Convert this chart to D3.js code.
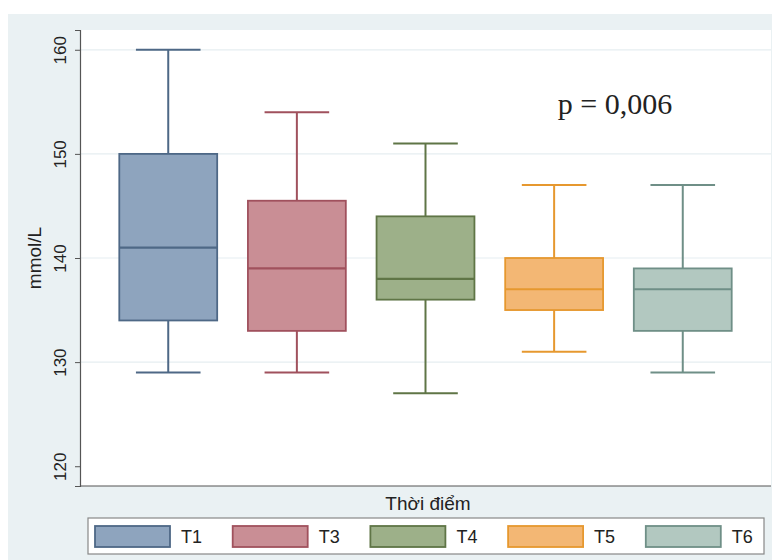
<!DOCTYPE html>
<html>
<head>
<meta charset="utf-8">
<script src="https://cdn.jsdelivr.net/npm/d3@7"></script>
<style>
  html, body { margin: 0; padding: 0; background: #ffffff; }
  svg { display: block; }
</style>
</head>
<body>
<svg id="chart" width="772" height="560"></svg>
<script>
// Serum sodium (mmol/L) across time points — box plot summaries
const groups   = ["T1", "T3", "T4", "T5", "T6"];
const whiskLo  = [129, 129, 127, 131, 129];
const q1       = [134, 133, 136, 135, 133];
const medians  = [141, 139, 138, 137, 137];
const q3       = [150, 145.5, 144, 140, 139];
const whiskHi  = [160, 154, 151, 147, 147];
const yTicks   = [120, 130, 140, 150, 160];
const fills    = ["#8ea4be", "#c98e95", "#9db089", "#f3b774", "#b2c8c0"];
const strokes  = ["#4e6886", "#a0515d", "#5f7546", "#e6982f", "#6f8f87"];

const svg = d3.select("#chart");
const W = 772, H = 560;

// outer panel background
svg.append("rect").attr("x", 8).attr("y", 14).attr("width", W - 8).attr("height", H - 14)
  .attr("fill", "#eaf1f3");

const plot = { left: 80, right: 771, top: 30, bottom: 486 };
svg.append("rect").attr("x", plot.left).attr("y", plot.top)
  .attr("width", plot.right - plot.left).attr("height", plot.bottom - plot.top)
  .attr("fill", "#ffffff");

const y = d3.scaleLinear().domain([118.1, 161.9]).range([plot.bottom, plot.top]);
const x = d3.scaleBand().domain(groups).range([100, 751]).paddingInner(0.239).paddingOuter(0.15);

// horizontal grid
svg.append("g").selectAll("line").data(yTicks.filter(t => t > 120)).join("line")
  .attr("x1", plot.left).attr("x2", plot.right)
  .attr("y1", d => y(d)).attr("y2", d => y(d))
  .attr("stroke", "#e6eef1").attr("stroke-width", 1.2);

// y axis
const yAxis = d3.axisLeft(y).tickValues(yTicks).tickSize(5).tickPadding(8);
const gy = svg.append("g").attr("transform", `translate(${plot.left},0)`).call(yAxis);
gy.select(".domain").attr("stroke", "#555").attr("stroke-width", 1.2);
gy.selectAll(".tick line").attr("stroke", "#555");
gy.selectAll(".tick text")
  .attr("font-family", "Liberation Sans, Arial, sans-serif").attr("font-size", 17)
  .attr("fill", "#222")
  .attr("transform", "rotate(-90)")
  .attr("x", 0).attr("dy", 0)
  .attr("y", -14)
  .attr("text-anchor", "middle");

// x axis baseline
svg.append("line").attr("x1", plot.left).attr("x2", plot.right)
  .attr("y1", plot.bottom).attr("y2", plot.bottom)
  .attr("stroke", "#555").attr("stroke-width", 1.2);

// axis titles
svg.append("text").attr("transform", `translate(41,${(plot.top + plot.bottom) / 2}) rotate(-90)`)
  .attr("text-anchor", "middle")
  .attr("font-family", "Liberation Sans, Arial, sans-serif").attr("font-size", 19).attr("fill", "#222")
  .text("mmol/L");
svg.append("text").attr("x", 428).attr("y", 510)
  .attr("text-anchor", "middle")
  .attr("font-family", "Liberation Sans, Arial, sans-serif").attr("font-size", 19).attr("fill", "#222")
  .text("Thời điểm");

// boxes
const boxes = svg.append("g").selectAll("g").data(groups).join("g");
boxes.each(function (g, i) {
  const sel = d3.select(this);
  const x0 = x(g), bw = x.bandwidth(), cx = x0 + bw / 2, capW = bw * 0.66;
  const st = strokes[i];
  // whiskers
  sel.append("line").attr("x1", cx).attr("x2", cx).attr("y1", y(whiskHi[i])).attr("y2", y(q3[i]))
    .attr("stroke", st).attr("stroke-width", 2);
  sel.append("line").attr("x1", cx).attr("x2", cx).attr("y1", y(q1[i])).attr("y2", y(whiskLo[i]))
    .attr("stroke", st).attr("stroke-width", 2);
  sel.append("line").attr("x1", cx - capW / 2).attr("x2", cx + capW / 2)
    .attr("y1", y(whiskHi[i])).attr("y2", y(whiskHi[i])).attr("stroke", st).attr("stroke-width", 2);
  sel.append("line").attr("x1", cx - capW / 2).attr("x2", cx + capW / 2)
    .attr("y1", y(whiskLo[i])).attr("y2", y(whiskLo[i])).attr("stroke", st).attr("stroke-width", 2);
  // box
  sel.append("rect").attr("x", x0).attr("width", bw)
    .attr("y", y(q3[i])).attr("height", y(q1[i]) - y(q3[i]))
    .attr("fill", fills[i]).attr("stroke", st).attr("stroke-width", 1.8);
  // median
  sel.append("line").attr("x1", x0).attr("x2", x0 + bw)
    .attr("y1", y(medians[i])).attr("y2", y(medians[i]))
    .attr("stroke", st).attr("stroke-width", 2.2);
});

// p-value annotation
svg.append("text").attr("x", 615).attr("y", 114).attr("text-anchor", "middle")
  .attr("font-family", "Liberation Serif, Times New Roman, serif").attr("font-size", 30).attr("fill", "#222")
  .text("p = 0,006");

// legend
const leg = svg.append("g");
leg.append("rect").attr("x", 88).attr("y", 518).attr("width", 676).attr("height", 36)
  .attr("fill", "#ffffff").attr("stroke", "#888").attr("stroke-width", 1.2);
const legItems = leg.selectAll("g.item").data(groups).join("g").attr("class", "item")
  .attr("transform", (d, i) => `translate(${95 + i * 137.7},526)`);
legItems.append("rect").attr("width", 75).attr("height", 21)
  .attr("fill", (d, i) => fills[i]).attr("stroke", (d, i) => strokes[i]).attr("stroke-width", 1.8);
legItems.append("text").attr("x", 86).attr("y", 17)
  .attr("font-family", "Liberation Sans, Arial, sans-serif").attr("font-size", 18).attr("fill", "#222")
  .text(d => d);
</script>
</body>
</html>
